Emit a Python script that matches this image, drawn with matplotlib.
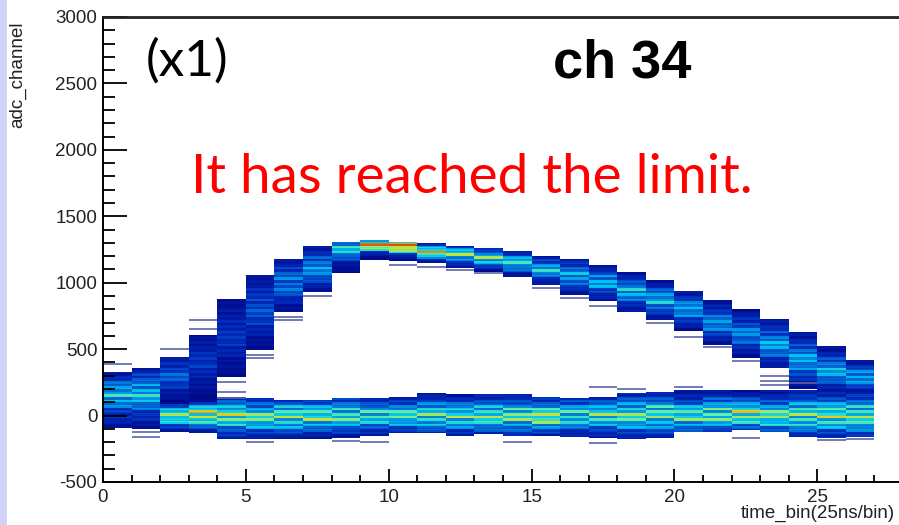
import numpy as np
import matplotlib
matplotlib.use("Agg")
import matplotlib.pyplot as plt
from matplotlib.colors import LinearSegmentedColormap
from matplotlib.patches import Rectangle
from matplotlib.ticker import MultipleLocator

plt.rcParams["axes.unicode_minus"] = False

# ---------------- data ----------------
time_bins = list(range(27))                      # time_bin index (bin i spans i..i+1)

# signal (pulse) band per time bin: lower / upper adc edge, densest adc, peak colour level
sig_low    = [-80, -80, 90, 100, 290, 495, 782, 932, 1071, 1171, 1158, 1148, 1108, 1083,
              1045, 983, 907, 857, 782, 719, 644, 531, 431, 356, 200, 190, 190]
sig_high   = [330, 355, 435, 606, 875, 1055, 1183, 1284, 1309, 1316, 1309, 1301, 1284, 1259,
              1241, 1201, 1183, 1126, 1075, 1020, 938, 865, 795, 732, 631, 519, 424]
sig_center = [150, 160, 300, 400, 600, 800, 1000, 1110, 1250, 1285, 1271, 1233, 1210, 1180,
              1150, 1100, 1050, 1000, 930, 870, 800, 700, 620, 540, 420, 340, 290]
sig_level  = [0.40, 0.42, 0.24, 0.16, 0.16, 0.22, 0.30, 0.34, 0.45, 0.80, 0.85, 0.68, 0.55, 0.50,
              0.45, 0.42, 0.38, 0.38, 0.38, 0.38, 0.36, 0.32, 0.30, 0.36, 0.36, 0.38, 0.40]

# baseline band per time bin
base_low    = [-90, -95, -120, -130, -180, -175, -183, -183, -171, -146, -133, -133, -146, -140,
               -146, -150, -158, -171, -179, -170, -121, -121, -108, -121, -158, -171, -159]
base_high   = [110, 110, 90, 100, 140, 130, 117, 117, 130, 130, 142, 168, 162, 158,
               162, 142, 132, 140, 168, 175, 193, 193, 190, 190, 190, 190, 190]
base_center = [0, 0, 0, 5, -5, -10, -10, -5, 0, -5, 0, 0, -5, 0,
               -5, -5, 0, 0, 5, 5, 0, 10, 10, 0, 0, 0, 0]
base_level  = [0.15, 0.15, 0.55, 0.68, 0.55, 0.52, 0.55, 0.52, 0.52, 0.48, 0.50, 0.52, 0.50, 0.54,
               0.54, 0.58, 0.50, 0.50, 0.52, 0.52, 0.50, 0.55, 0.58, 0.54, 0.54, 0.54, 0.54]

# isolated single entries (time bin, adc)
stray_bin = [0, 1, 1, 2, 3, 3, 4, 4, 4, 5, 5, 6, 6, 7, 10, 11, 13, 15, 16, 17, 17, 17,
             19, 20, 20, 21, 22, 23, 23, 23, 9, 14, 5, 22, 24, 18, 12, 8, 26, 25]
stray_adc = [388, -120, -160, 499, 719, 650, 250, 180, 132, 430, 455, 719, 745, 900, 1133,
             1120, 1070, 960, 882, 824, 218, -208, 694, 594, 212, 515, 410, 300, 262, 232,
             -196, -196, -196, -171, 245, 200, 1095, -190, -175, -185]

# row texture of the sparse histogram (relative weights)
stripe_pattern = [1.0, 0.6, 1.2, 0.8, 1.1, 0.65, 1.3, 0.9, 0.75, 1.15, 0.85, 1.2, 0.7]

x_major, y_major = 5, 500
xlim = (0, 28)
ylim = (-500, 3000)

# ---------------- build the 2D histogram ----------------
ybin = 10
x_edges = np.arange(0, len(time_bins) + 1)
y_edges = np.arange(ylim[0], ylim[1] + ybin, ybin)
y_cent = 0.5 * (y_edges[:-1] + y_edges[1:])
Z = np.zeros((len(y_cent), len(time_bins)))
floor = 0.04
rows = np.arange(len(y_cent))
for i in time_bins:
    tex = np.array([stripe_pattern[(r // 2 + 5 * i) % len(stripe_pattern)] for r in rows])
    for lo, hi, c, lev, frac in ((sig_low[i], sig_high[i], sig_center[i], sig_level[i], 4.5),
                                 (base_low[i], base_high[i], base_center[i], base_level[i], 4.0)):
        m = (y_cent >= lo) & (y_cent <= hi)
        sigma = max((hi - lo) / frac, 20)
        prof = floor + (lev - floor) * np.exp(-0.5 * ((y_cent - c) / sigma) ** 2)
        val = np.clip(prof * tex, 0.01, 1.0)
        Z[m, i] = np.maximum(Z[m, i], val[m])
Zm = np.ma.masked_where(Z <= 0, Z)

cmap = LinearSegmentedColormap.from_list("rootlike", [
    (0.00, (0/255, 0/255, 125/255)),
    (0.15, (0/255, 45/255, 190/255)),
    (0.30, (0/255, 125/255, 220/255)),
    (0.42, (0/255, 200/255, 240/255)),
    (0.55, (100/255, 240/255, 160/255)),
    (0.68, (225/255, 220/255, 30/255)),
    (0.82, (240/255, 130/255, 0/255)),
    (1.00, (200/255, 20/255, 0/255)),
])

# ---------------- figure ----------------
W, H = 899, 525
fig = plt.figure(figsize=(W / 100, H / 100), dpi=100)
fig.patch.set_facecolor("white")
fig.patches.append(Rectangle((0, 0), 7 / W, 1, transform=fig.transFigure,
                             facecolor="#d2d2f8", edgecolor="none", zorder=0))

ax = fig.add_axes([103 / W, 43 / H, 800 / W, 465 / H])
ax.pcolormesh(x_edges, y_edges, Zm, cmap=cmap, vmin=0, vmax=1, shading="flat")
ax.hlines(stray_adc, np.array(stray_bin), np.array(stray_bin) + 1,
          colors="#5a64a8", linewidth=1.2)

ax.set_xlim(*xlim)
ax.set_ylim(*ylim)
ax.xaxis.set_major_locator(MultipleLocator(x_major))
ax.xaxis.set_minor_locator(MultipleLocator(1))
ax.yaxis.set_major_locator(MultipleLocator(y_major))
ax.yaxis.set_minor_locator(MultipleLocator(100))

for s in ("left", "bottom"):
    ax.spines[s].set_linewidth(1.4)
ax.spines["top"].set_linewidth(2.0)
ax.spines["top"].set_color("#222222")
ax.spines["right"].set_visible(False)

ax.tick_params(axis="y", which="major", direction="in", length=17, width=1.3,
               labelsize=13.5, pad=4, right=False)
ax.tick_params(axis="y", which="minor", direction="in", length=8.5, width=1.3, right=False)
ax.tick_params(axis="x", which="major", direction="in", length=9.5, width=1.3,
               labelsize=13.5, pad=5, top=False)
ax.tick_params(axis="x", which="minor", direction="in", length=5, width=1.3, top=False)
for lab in ax.get_xticklabels() + ax.get_yticklabels():
    lab.set_family("Liberation Sans")
    lab.set_color("#222222")

fig.text(895 / W, 1 - 513 / H, "time_bin(25ns/bin)", ha="right", va="center",
         fontsize=13.5, family="Liberation Sans", color="#222222")
fig.text(18 / W, 1 - 22 / H, "adc_channel", ha="center", va="top", rotation=90,
         fontsize=13.5, family="Liberation Sans", color="#222222")

fig.text(187 / W, 1 - 61 / H, "(x1)", ha="center", va="center",
         fontsize=37, family="Lato", color="black")
fig.text(553 / W, 1 - 77 / H, "ch 34", ha="left", va="baseline",
         fontsize=39, family="Liberation Sans", weight="bold", color="black")
fig.text(472 / W, 1 - 193 / H, "It has reached the limit.", ha="center", va="baseline",
         fontsize=39.5, family="Lato", color="#ff0000")

fig.savefig("out.png", dpi=100)
